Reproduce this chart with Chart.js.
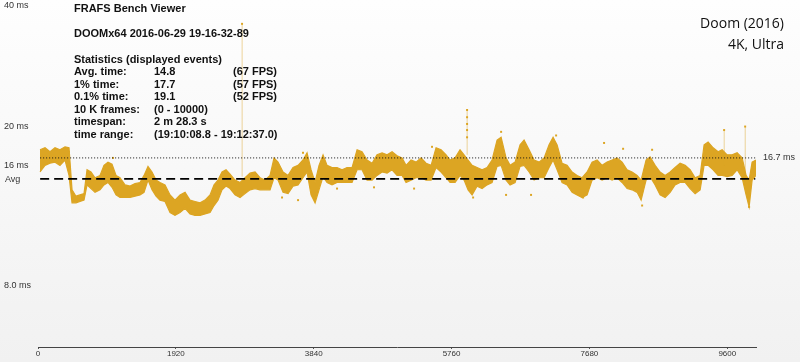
<!DOCTYPE html>
<html><head><meta charset="utf-8">
<script src="https://cdn.jsdelivr.net/npm/chart.js@4/dist/chart.umd.min.js"></script>
<style>
html,body{margin:0;padding:0;}
body{width:800px;height:362px;background:linear-gradient(#fefefe,#f1f1f1);overflow:hidden;}
#wrap{position:relative;width:800px;height:362px;}
</style></head><body><div id="wrap"><canvas id="c"></canvas></div>
<script>
const frames=[28,98,167,237,306,376,432,474,529,585,641,683,738,794,864,919,975,1031,1087,1142,1212,1282,1351,1421,1477,1532,1588,1644,1699,1769,1839,1908,1978,2048,2117,2187,2257,2326,2396,2452,2507,2563,2619,2675,2744,2814,2884,2953,3023,3092,3162,3232,3287,3343,3413,3483,3552,3622,3691,3747,3803,3859,3914,3970,4026,4095,4165,4235,4304,4374,4444,4513,4583,4653,4722,4792,4862,4931,5001,5071,5126,5196,5266,5335,5405,5475,5544,5614,5684,5739,5809,5878,5934,5990,6046,6115,6185,6255,6324,6394,6450,6519,6575,6645,6714,6770,6840,6909,6979,7049,7118,7174,7230,7299,7369,7439,7508,7578,7648,7717,7787,7857,7926,7996,8065,8135,8205,8274,8344,8400,8469,8525,8595,8664,8734,8804,8873,8943,9013,9082,9152,9222,9277,9333,9403,9472,9528,9598,9667,9737,9807,9862,9904,9946,10000];
const hiMs=[17.5,17.7,17.3,17.7,17.5,17.8,17.7,13.9,13.4,13.5,13.6,15.6,15.4,14.9,15.1,16.0,16.3,16.1,15.1,14.9,14.3,14.2,14.4,14.5,15.1,15.9,15.4,14.7,14.5,14.3,13.5,13.1,13.5,13.7,13.1,13.0,12.9,13.1,13.5,14.3,14.7,15.4,15.6,15.2,14.7,14.5,14.9,15.3,15.4,14.9,14.7,15.1,16.7,16.3,15.4,15.1,15.8,16.0,16.5,17.2,15.6,14.5,16.0,17.0,16.0,15.8,15.8,15.6,15.8,15.8,17.5,17.3,16.5,16.2,17.0,17.2,17.0,17.3,16.9,16.7,16.0,16.5,16.3,16.7,16.2,16.0,17.7,17.5,17.0,16.5,16.7,17.5,17.0,16.5,16.0,15.8,15.6,15.8,16.5,18.5,18.8,16.7,16.0,16.3,18.0,18.5,17.5,16.5,16.3,16.7,18.0,18.8,18.0,16.2,16.0,15.4,15.1,14.9,15.4,16.3,16.5,16.0,16.3,16.5,16.7,16.3,15.6,15.4,15.1,14.7,16.5,16.8,16.0,15.4,15.1,15.4,15.8,16.2,16.0,15.6,14.9,15.1,18.0,18.3,17.7,17.3,17.5,17.0,17.0,17.2,16.7,15.1,14.7,16.3,16.5];
const loMs=[15.4,16.0,16.2,16.3,16.0,16.5,15.1,12.9,12.9,13.0,13.1,14.3,14.0,13.7,13.9,14.3,14.5,14.1,13.5,13.3,13.3,13.3,13.4,13.5,13.7,14.7,13.9,13.4,13.1,13.0,12.2,12.0,12.2,12.5,12.1,12.0,12.0,12.1,12.2,12.7,13.1,13.9,14.2,14.0,13.5,13.3,13.6,13.9,14.0,13.9,13.9,13.9,14.9,14.7,13.7,13.6,14.2,14.3,14.9,15.4,13.5,12.9,13.9,15.0,14.5,14.3,14.5,14.5,14.5,14.5,15.6,15.6,14.7,14.7,15.1,15.4,15.3,15.6,15.1,15.1,14.5,14.7,14.9,14.9,14.7,14.7,15.8,15.4,14.9,14.5,14.5,15.1,14.7,13.9,13.5,14.2,14.0,14.3,14.5,15.9,16.0,14.7,14.3,14.5,15.9,16.0,15.4,14.7,14.9,14.9,15.8,16.5,15.6,14.5,14.3,13.7,13.5,13.3,13.5,14.7,14.9,14.7,14.9,14.7,14.9,14.5,14.0,13.9,13.7,13.1,14.7,15.0,14.3,13.5,13.3,13.7,14.3,14.5,14.5,14.0,13.6,13.9,16.0,16.0,15.6,15.1,15.1,15.0,15.1,15.6,14.9,13.5,12.6,14.7,15.1];
const outlierFrames=[1045,432,3399,3622,4165,4680,5238,6060,6519,6867,7592,8414,9904,6450,7216,7884,9556,9849,8553,8149,5488,3691,5976,5976,5976,5976,5976,2842];
const outlierMs=[16.7,17.3,13.3,13.1,14.0,14.1,14.0,13.3,13.5,13.5,13.3,12.7,12.6,19.4,19.0,18.2,19.6,20.0,17.5,17.6,17.8,17.2,22.0,21.1,20.3,19.6,18.8,36.1];
const spikeFrames=[2842,5976,9556,9849];
const spikeBaseMs=[15.0,17.0,16.0,15.0];
const spikeTopMs=[36.1,22.0,19.6,20.0];
const xTicks=[0,1920,3840,5760,7680,9600];
const yTicks=[40,20,16,8];
const yTickLabels=['40 ms','20 ms','16 ms','8.0 ms'];
const avgMs=14.8, targetMs=16.7;
const avgLabel='Avg', targetLabel='16.7 ms';
const headTitle='FRAFS Bench Viewer';
const runName='DOOMx64 2016-06-29 19-16-32-89';
const statsHeader='Statistics (displayed events)';
const statNames=['Avg. time:','1% time:','0.1% time:','10 K frames:','timespan:','time range:'];
const statValues=['14.8','17.7','19.1','(0 - 10000)','2 m 28.3 s','(19:10:08.8 - 19:12:37.0)'];
const statFps=['(67 FPS)','(57 FPS)','(52 FPS)','','',''];
const gameTitle=['Doom (2016)','4K, Ultra'];

const gold='rgb(220,165,35)';
const spikeData=[];
spikeFrames.forEach((f,i)=>{spikeData.push({x:f,y:spikeBaseMs[i]},{x:f+1,y:spikeTopMs[i]},{x:f+2,y:null});});

const textPlugin={id:'texts',afterDraw(chart){
  const ctx=chart.ctx, ys=chart.scales.y;
  ctx.save();
  ctx.fillStyle='#111';ctx.textBaseline='middle';ctx.textAlign='left';
  ctx.font='bold 11px "Liberation Sans"';
  ctx.fillText(headTitle,74,9);
  ctx.fillText(runName,74,34);
  ctx.fillText(statsHeader,74,60);
  statNames.forEach((n,i)=>{const y=72+i*12.6;ctx.fillText(n,74,y);ctx.fillText(statValues[i],154,y);if(statFps[i])ctx.fillText(statFps[i],233,y);});
  ctx.font='14px "Open Sans"';ctx.textAlign='right';
  ctx.fillText(gameTitle[0],784,24);ctx.fillText(gameTitle[1],784,45);
  ctx.font='9px "Liberation Sans"';ctx.fillStyle='#333';ctx.textAlign='left';
  ctx.fillText(avgLabel,5,ys.getPixelForValue(avgMs)+1);
  ctx.fillText(targetLabel,763,ys.getPixelForValue(targetMs));
  ctx.restore();
}};

new Chart(document.getElementById('c'),{
  type:'line',
  data:{datasets:[
    {data:frames.map((f,i)=>({x:f,y:hiMs[i]})),borderColor:gold,borderWidth:1.2,pointRadius:0,fill:false,order:5},
    {data:frames.map((f,i)=>({x:f,y:loMs[i]})),borderColor:gold,backgroundColor:gold,borderWidth:1.2,pointRadius:0,fill:'-1',order:5},
    {data:spikeData,borderColor:'rgba(220,165,35,0.45)',borderWidth:1,pointRadius:0,spanGaps:false,fill:false,order:4},
    {type:'scatter',data:outlierFrames.map((f,i)=>({x:f,y:outlierMs[i]})),pointStyle:'rect',pointRadius:1.4,backgroundColor:gold,borderWidth:0,order:3},
    {data:[{x:30,y:targetMs},{x:9990,y:targetMs}],borderColor:'#111',borderWidth:1,borderDash:[1,2],pointRadius:0,fill:false,order:1},
    {data:[{x:30,y:avgMs},{x:9990,y:avgMs}],borderColor:'#000',borderWidth:1.6,borderDash:[9,5],pointRadius:0,fill:false,order:0}
  ]},
  options:{
    responsive:true,maintainAspectRatio:false,animation:false,
    layout:{padding:{left:4,right:44,top:6,bottom:0}},
    plugins:{legend:{display:false},tooltip:{enabled:false}},
    scales:{
      x:{type:'linear',min:0,max:10000,
        afterBuildTicks:s=>{s.ticks=xTicks.map(v=>({value:v}));},
        afterFit:s=>{s.height=15;},
        grid:{display:true,drawOnChartArea:false,tickLength:2,color:'#555'},
        border:{display:true,color:'#444',width:1},
        ticks:{font:{family:'Liberation Sans',size:8},color:'#333',padding:0,maxRotation:0,autoSkip:false,
          callback:v=>String(v)}},
      y:{type:'logarithmic',min:5.63,max:40,
        afterBuildTicks:s=>{s.ticks=yTicks.map(v=>({value:v}));},
        afterFit:s=>{s.width=34;},
        grid:{display:false},border:{display:false},
        ticks:{font:{family:'Liberation Sans',size:9},color:'#333',crossAlign:'far',padding:0,autoSkip:false,
          callback:(v)=>{const i=yTicks.indexOf(v);return i>=0?yTickLabels[i]:'';}}}
    }
  },
  plugins:[textPlugin]
});
</script></body></html>
